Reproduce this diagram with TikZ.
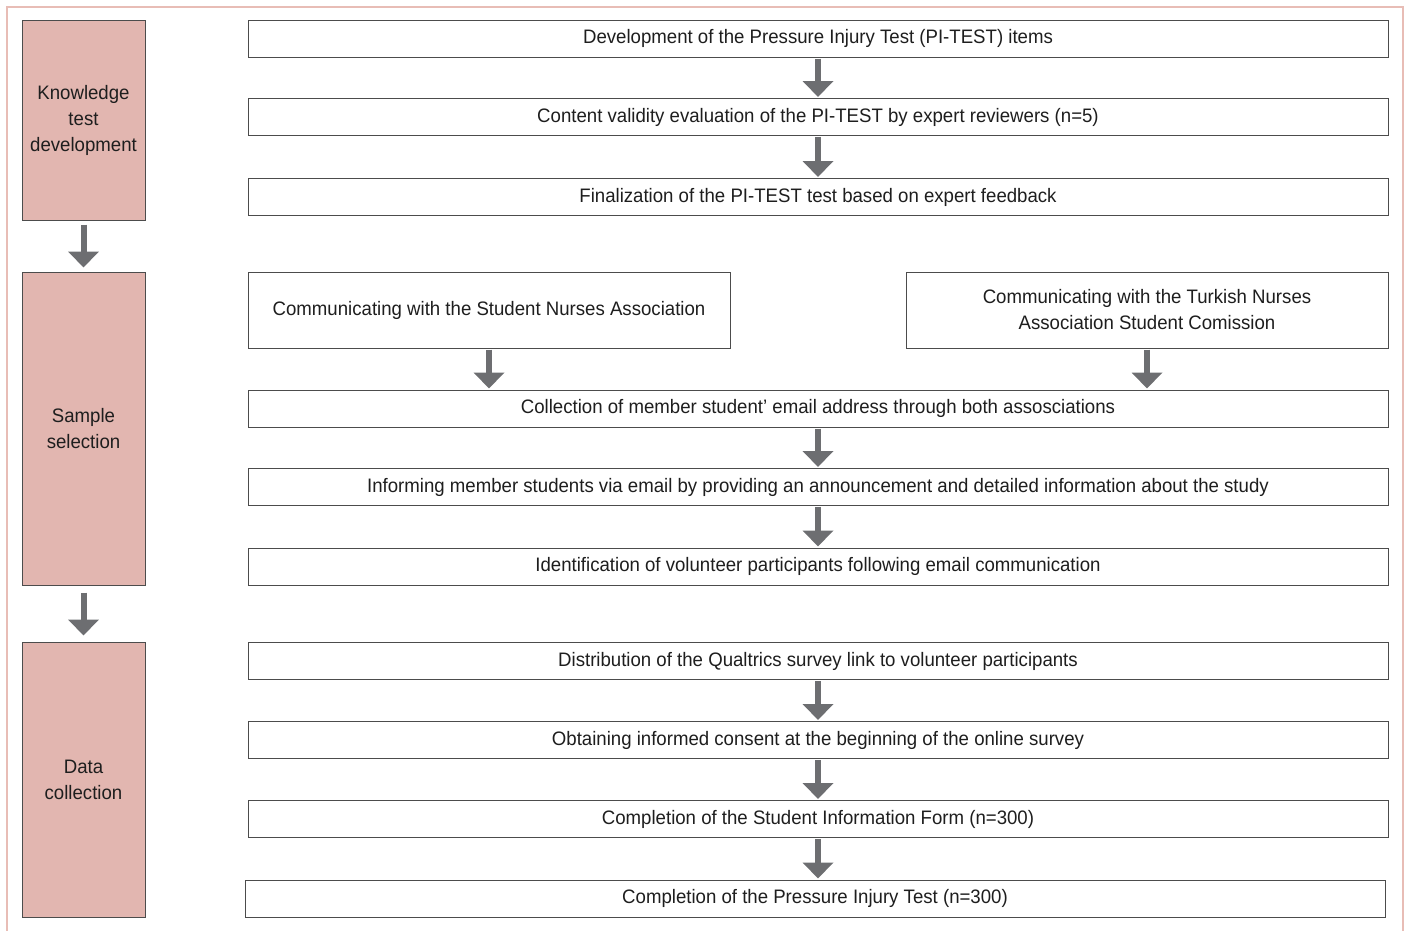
\documentclass[tikz,border=0pt]{standalone}
\usepackage{fontspec}
\setmainfont[FakeStretch=0.955]{Liberation Sans}
\usepackage{tikz}
\usetikzlibrary{arrows.meta}
\definecolor{phasefill}{HTML}{E2B6B0}
\definecolor{framepink}{HTML}{E8BDB6}
\definecolor{arrowgray}{HTML}{6D6E71}
\definecolor{inkgray}{HTML}{1E1E1E}
\tikzstyle{phase} = [draw=black!70, line width=1pt, fill=phasefill, minimum width=123pt, align=center, inner sep=0pt, font={\fontsize{19.5}{26}\selectfont}, text=inkgray]
\tikzstyle{stepbox} = [draw=black!70, line width=1pt, fill=white, minimum width=1140pt, minimum height=37pt, align=center, inner sep=0pt, font={\fontsize{19.5}{26}\selectfont}, text=inkgray]
\tikzstyle{halfbox} = [stepbox, minimum width=482pt, minimum height=76pt]
\tikzstyle{arr} = [draw=arrowgray, line width=6pt, -{Triangle[width=30pt,length=16pt]}, arrowgray, shorten <=1pt, shorten >=1pt]

\begin{document}
\begin{tikzpicture}[x=1pt,y=-1pt]
        \useasboundingbox (0,0) rectangle (1408,930);
        \draw[framepink, line width=2pt](7,935)--(7,7)--(1403,7)--(1403,935);
        % phases
        \node[phase,minimum height=200pt](p1) at (83.5,120){Knowledge\\test\\development};
        \node[phase,minimum height=313pt](p2) at (83.5,428.5){Sample\\selection};
        \node[phase,minimum height=275pt](p3) at (83.5,779.5){Data\\collection};
        \draw[arr,shorten <=4pt,shorten >=4pt](p1)--(p2);
        \draw[arr,shorten <=7pt,shorten >=6pt](p2)--(p3);
        % steps
        \node[stepbox](1) at (818,38.5){Development of the Pressure Injury Test (PI-TEST) items};
        \node[stepbox](2) at (818,117){Content validity evaluation of the PI-TEST by expert reviewers (n=5)};
        \node[stepbox](3) at (818,197){Finalization of the PI-TEST test based on expert feedback};
        \node[halfbox](4a) at (489,310){Communicating with the Student Nurses Association};
        \node[halfbox](4b) at (1147,310){Communicating with the Turkish Nurses\\Association Student Comission};
        \node[stepbox](5) at (818,408.5){Collection of member student' email address through both assosciations};
        \node[stepbox](6) at (818,487){Informing member students via email by providing an announcement and detailed information about the study};
        \node[stepbox](7) at (818,566.5){Identification of volunteer participants following email communication};
        \node[stepbox](8) at (818,661){Distribution of the Qualtrics survey link to volunteer participants};
        \node[stepbox](9) at (818,740){Obtaining informed consent at the beginning of the online survey};
        \node[stepbox](10) at (818,819){Completion of the Student Information Form (n=300)};
        \node[stepbox](11) at (815,898.5){Completion of the Pressure Injury Test (n=300)};
        \draw[arr](1)--(2);
        \draw[arr](2)--(3);
        \draw[arr](4a)--(4a|-5.north);
        \draw[arr](4b)--(4b|-5.north);
        \draw[arr](5)--(6);
        \draw[arr](6)--(7);
        \draw[arr](8)--(9);
        \draw[arr](9)--(10);
        \draw[arr](10)--(10|-11.north);
      \end{tikzpicture}
\end{document}
